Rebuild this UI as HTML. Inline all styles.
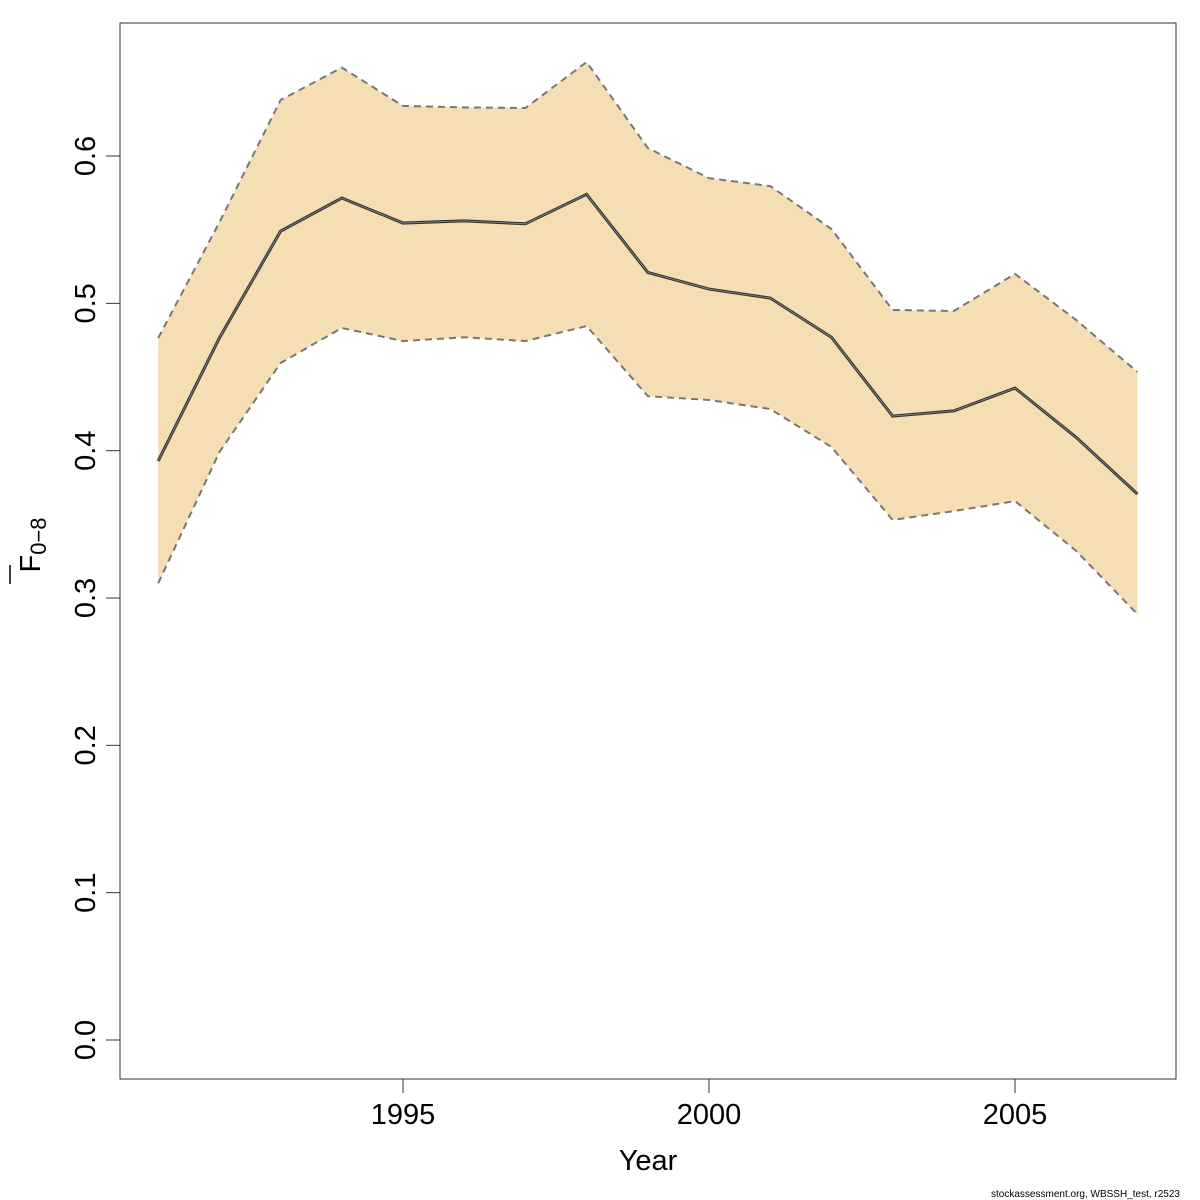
<!DOCTYPE html>
<html><head><meta charset="utf-8"><style>
html,body{margin:0;padding:0;background:#fff}
svg{display:block;font-family:"Liberation Sans","DejaVu Sans",sans-serif}
</style></head><body>
<svg id="chart" width="1200" height="1200" viewBox="0 0 1200 1200">
<rect x="120" y="23" width="1056" height="1056" fill="none" stroke="#333" stroke-width="1"/>
<g id="band"></g><g id="lines"></g><g id="axes"></g>
<text transform="translate(40,545) rotate(-90)" font-size="29" text-anchor="middle">F<tspan font-size="22" dy="6">0−8</tspan></text>
<line x1="10" y1="565" x2="10" y2="584" stroke="#000" stroke-width="1.5"/>
<text x="648" y="1170" font-size="29" text-anchor="middle">Year</text>
<text x="1180" y="1197" font-size="10" text-anchor="end">stockassessment.org, WBSSH_test, r2523</text>
</svg>
<script>
const years=[1991,1992,1993,1994,1995,1996,1997,1998,1999,2000,2001,2002,2003,2004,2005,2006,2007];
const meanF=[0.393,0.4765,0.549,0.5715,0.5545,0.556,0.554,0.574,0.521,0.5097,0.5036,0.477,0.4235,0.427,0.4425,0.409,0.3706];
const upperF=[0.4765,0.555,0.638,0.660,0.634,0.633,0.6326,0.6638,0.6054,0.585,0.5796,0.5505,0.4955,0.4948,0.52,0.4887,0.4534];
const lowerF=[0.310,0.399,0.4595,0.4833,0.4744,0.477,0.4744,0.4846,0.437,0.4344,0.4283,0.4025,0.353,0.359,0.3658,0.332,0.289];
const yTicks=[0,0.1,0.2,0.3,0.4,0.5,0.6];
const yTickLabels=["0.0","0.1","0.2","0.3","0.4","0.5","0.6"];
const xTicks=[1995,2000,2005];
const NS="http://www.w3.org/2000/svg";
const xs=v=>403+(v-1995)*61.2;
const ys=v=>1040-v*1473.3;
function mk(tag,attrs,parent){const e=document.createElementNS(NS,tag);for(const k in attrs)e.setAttribute(k,attrs[k]);parent.appendChild(e);return e;}
const band=document.getElementById('band'),lines=document.getElementById('lines'),axes=document.getElementById('axes');
let pts=years.map((y,i)=>xs(y)+','+ys(upperF[i]));
for(let i=years.length-1;i>=0;i--)pts.push(xs(years[i])+','+ys(lowerF[i]));
const poly=mk('polygon',{points:pts.join(' '),fill:'#F5DEB3',stroke:'none'},band);


const up=mk('polyline',{points:years.map((y,i)=>xs(y)+','+ys(upperF[i])).join(' '),fill:'none',stroke:'#777','stroke-width':2,'stroke-dasharray':'7,5'},lines);


const lo=mk('polyline',{points:years.map((y,i)=>xs(y)+','+ys(lowerF[i])).join(' '),fill:'none',stroke:'#777','stroke-width':2,'stroke-dasharray':'7,5'},lines);


const mn=mk('polyline',{points:years.map((y,i)=>xs(y)+','+ys(meanF[i])).join(' '),fill:'none',stroke:'#333','stroke-width':3},lines);


const mn2=mk('polyline',{points:years.map((y,i)=>xs(y)+','+ys(meanF[i])).join(' '),fill:'none',stroke:'#888','stroke-width':0.8},lines);


yTicks.forEach((v,i)=>{
 const t=mk('line',{x1:106,x2:120,y1:ys(v),y2:ys(v),stroke:'#333'},axes);
 
 
 const l=mk('text',{transform:`translate(95,${ys(v)}) rotate(-90)`,'font-size':29,'text-anchor':'middle'},axes);
 l.textContent=yTickLabels[i];
 
 
});
xTicks.forEach(v=>{
 const t=mk('line',{x1:xs(v),x2:xs(v),y1:1079,y2:1093,stroke:'#333'},axes);
 
 
 const l=mk('text',{x:xs(v),y:1124,'font-size':29,'text-anchor':'middle'},axes);
 l.textContent=v;
 
 
});
</script>
</body></html>
